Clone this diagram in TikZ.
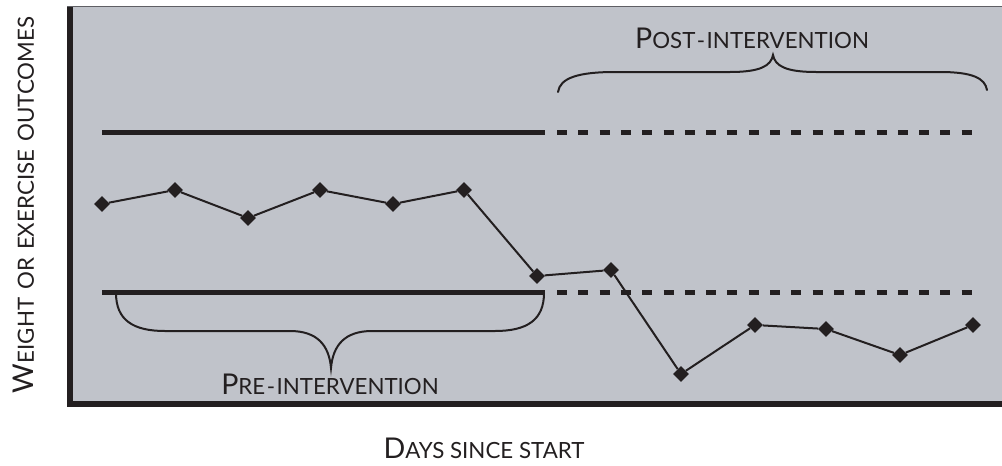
\documentclass[tikz,border=0pt]{standalone}
\usepackage{fontspec}
\setmainfont{Lato}
\usetikzlibrary{shapes.geometric}
\definecolor{panel}{RGB}{192,195,202}
\definecolor{ink}{RGB}{35,31,32}
\definecolor{rim}{RGB}{95,95,100}
% small-caps style words: a large initial followed by smaller capitals
\newcommand\scword[2]{{\fontsize{28.6}{29}\selectfont #1}{\fontsize{22.3}{23}\selectfont #2}}
\newcommand\wgap{\hspace{8pt}}

\begin{document}
\begin{tikzpicture}[x=1pt,y=-1pt,
  datapt/.style={shape=diamond, fill=ink, inner sep=0pt, minimum width=16pt, minimum height=16pt},
  series/.style={line width=2pt, draw=ink},
  limit/.style={line width=5pt, draw=ink},
  limitdash/.style={limit, dash pattern=on 10pt off 11.3pt},
  bracepath/.style={line width=2pt, draw=ink, line cap=round},
  lbl/.style={inner sep=0pt, text=ink, anchor=base}]
\useasboundingbox (0,0) rectangle (1002,466);

% plotting panel and axes
\fill[panel] (67,6) rectangle (1002,406);
\draw[rim, line width=1pt] (67,6) -- (1002,6);
\draw[ink, line width=6pt] (69.5,7) -- (69.5,404) -- (1002,404);

% control limits: solid before, dashed after the intervention
\coordinate (hiA) at (102,132);
\coordinate (hiB) at (545,132);
\coordinate (hiC) at (557,132);
\coordinate (hiD) at (972,132);
\coordinate (loA) at (102,292);
\coordinate (loB) at (545,292);
\coordinate (loC) at (557,292);
\coordinate (loD) at (972,292);
\draw[limit] (hiA) -- (hiB);
\draw[limitdash] (hiC) -- (hiD);
\draw[limit] (loA) -- (loB);
\draw[limitdash] (loC) -- (loD);

% observations
\node[datapt] (p1) at (102,204) {};
\node[datapt] (p2) at (175,190) {};
\node[datapt] (p3) at (248,218) {};
\node[datapt] (p4) at (320,190) {};
\node[datapt] (p5) at (393,204) {};
\node[datapt] (p6) at (464,190) {};
\node[datapt] (p7) at (537,276) {};
\node[datapt] (p8) at (611,270) {};
\node[datapt] (p9) at (681,374) {};
\node[datapt] (p10) at (755,325) {};
\node[datapt] (p11) at (826,329) {};
\node[datapt] (p12) at (900,355) {};
\node[datapt] (p13) at (973,325) {};
\draw[series] (p1) -- (p2) -- (p3) -- (p4) -- (p5) -- (p6) -- (p7) -- (p8)
  -- (p9) -- (p10) -- (p11) -- (p12) -- (p13);

% phase braces
\draw[bracepath] (544,293) .. controls (544,320) and (527,331) .. (495,331)
  -- (372,331) .. controls (345,331) and (333,345) .. (331,368)
  .. controls (329,345) and (317,331) .. (290,331)
  -- (165,331) .. controls (133,331) and (116,320) .. (116,293);
\draw[bracepath] (558,92) .. controls (560,78) and (578,72) .. (615,72)
  -- (730,72) .. controls (760,72) and (771,66) .. (773,55)
  .. controls (775,66) and (786,72) .. (816,72)
  -- (940,72) .. controls (972,72) and (985,78) .. (987,90);

% labels
\node[lbl] (pre) at (330,394) {\scword{P}{RE\kern1.5pt-\kern1.5pt INTERVENTION}};
\node[lbl] (post) at (752,48) {\scword{P}{OST\kern1.5pt-\kern1.5pt INTERVENTION}};
\node[lbl] (xlab) at (484,458) {\scword{D}{AYS SINCE START}};
\node[lbl, rotate=90] (ylab) at (34,205) {\scword{W}{EIGHT\wgap OR\wgap EXERCISE\wgap OUTCOMES}};
\end{tikzpicture}
\end{document}
